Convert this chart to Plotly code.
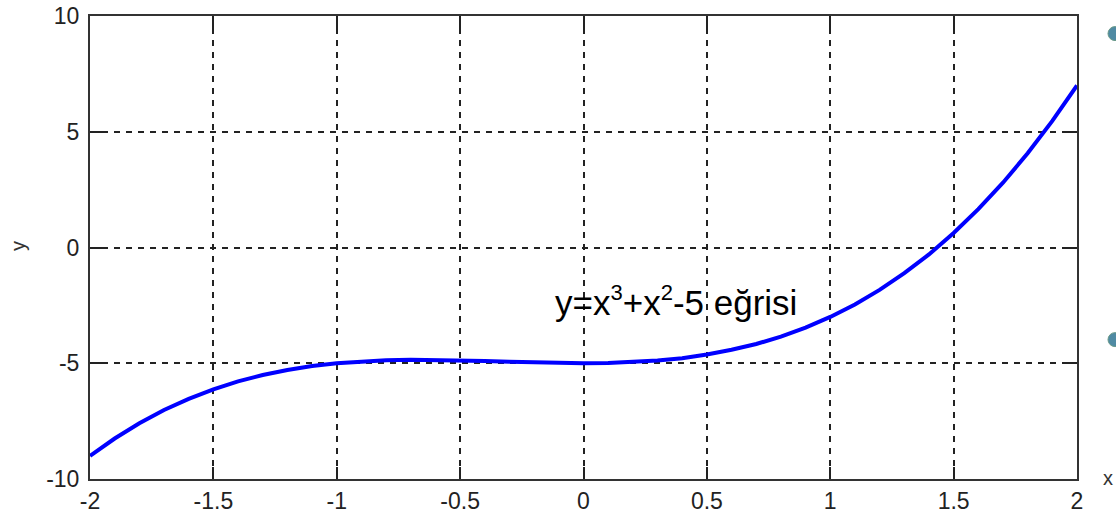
import plotly.graph_objects as go

# Sampled curve y = x^3 + x^2 - 5 on [-2, 2]
x_vals = [-2.0, -1.9, -1.8, -1.7, -1.6, -1.5, -1.4, -1.3, -1.2, -1.1, -1.0,
          -0.9, -0.8, -0.7, -0.6, -0.5, -0.4, -0.3, -0.2, -0.1, 0.0,
          0.1, 0.2, 0.3, 0.4, 0.5, 0.6, 0.7, 0.8, 0.9, 1.0,
          1.1, 1.2, 1.3, 1.4, 1.5, 1.6, 1.7, 1.8, 1.9, 2.0]
y_vals = [-9.0, -8.25, -7.59, -7.02, -6.54, -6.125, -5.78, -5.51, -5.29, -5.12, -5.0,
          -4.92, -4.87, -4.85, -4.86, -4.875, -4.90, -4.94, -4.97, -4.99, -5.0,
          -4.99, -4.95, -4.88, -4.78, -4.625, -4.42, -4.17, -3.85, -3.46, -3.0,
          -2.46, -1.83, -1.11, -0.30, 0.625, 1.66, 2.80, 4.07, 5.47, 7.0]

x_ticks = [-2, -1.5, -1, -0.5, 0, 0.5, 1, 1.5, 2]
x_tick_text = ["-2", "-1.5", "-1", "-0.5", "0", "0.5", "1", "1.5", "2"]
y_ticks = [-10, -5, 0, 5, 10]
y_tick_text = ["-10", "-5", "0", "5", "10"]

sup = '<sup><span style="font-size:22px">{}</span></sup>'
curve_label = "y=x" + sup.format("3") + "+x" + sup.format("2") + "-5 eğrisi"

tick_font = dict(family="Liberation Sans, Arial, sans-serif", size=23, color="#222")

fig = go.Figure()
fig.add_trace(go.Scatter(
    x=x_vals, y=y_vals, mode="lines",
    line=dict(color="#0000FF", width=4),
    showlegend=False, hoverinfo="skip",
))

axis_common = dict(
    showline=True, linecolor="#333", linewidth=2, mirror="ticks",
    ticks="inside", ticklen=12, tickwidth=2, tickcolor="#222",
    showgrid=True, gridcolor="#222", gridwidth=1.5, griddash="6px,6px",
    zeroline=False, tickfont=tick_font, automargin=False,
)

fig.update_xaxes(range=[-2, 2], tickvals=x_ticks, ticktext=x_tick_text,
                 ticklabelstandoff=0, **axis_common)
fig.update_yaxes(range=[-10, 10], tickvals=y_ticks, ticktext=y_tick_text,
                 ticklabelstandoff=4, **axis_common)

fig.add_annotation(
    x=-0.124, y=-2.3, xref="x", yref="y", text=curve_label,
    showarrow=False, xanchor="left", yanchor="middle",
    font=dict(family="Liberation Sans, Arial, sans-serif", size=35, color="#000"),
)

# axis names
fig.add_annotation(
    x=1.0315, y=0.003, xref="paper", yref="paper", text="x",
    showarrow=False, xanchor="center", yanchor="middle",
    font=dict(family="Liberation Sans, Arial, sans-serif", size=20, color="#333"),
)
fig.add_annotation(
    x=-0.073, y=0.503, xref="paper", yref="paper", text="y", textangle=-90,
    showarrow=False, xanchor="center", yanchor="middle",
    font=dict(family="Liberation Sans, Arial, sans-serif", size=20, color="#333"),
)

# bullet markers at the right edge of the page
for py in [0.962, 0.301]:
    fig.add_shape(
        type="circle", xref="paper", yref="paper",
        xsizemode="pixel", ysizemode="pixel",
        xanchor=1.0385, yanchor=py,
        x0=-7, x1=7, y0=-7, y1=7,
        fillcolor="#4f8aa3", line=dict(color="#6a9a8a", width=1),
        layer="above",
    )

fig.update_layout(
    width=1116, height=515,
    margin=dict(l=90, r=39, t=16, b=36, autoexpand=False),
    paper_bgcolor="white", plot_bgcolor="white",
)

fig.write_html("out.html")
